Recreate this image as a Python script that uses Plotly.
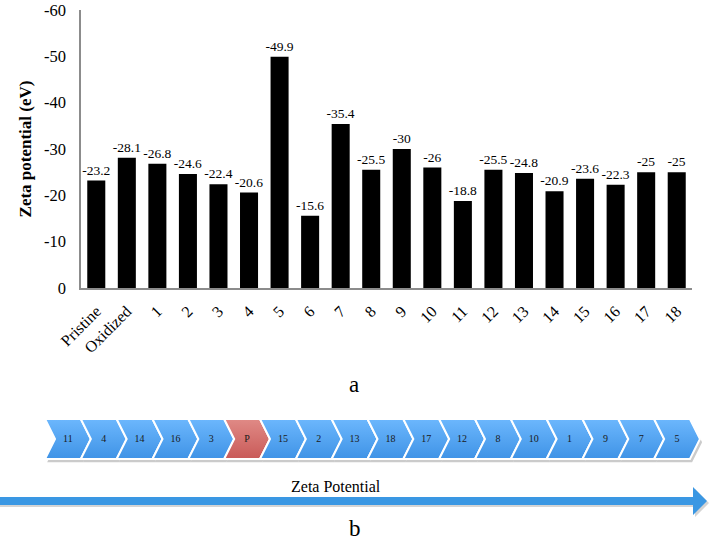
import plotly.graph_objects as go

# ---- data (part a) ----
categories = ["Pristine", "Oxidized", "1", "2", "3", "4", "5", "6", "7", "8", "9",
              "10", "11", "12", "13", "14", "15", "16", "17", "18"]
zeta_values = [-23.2, -28.1, -26.8, -24.6, -22.4, -20.6, -49.9, -15.6, -35.4, -25.5,
               -30, -26, -18.8, -25.5, -24.8, -20.9, -23.6, -22.3, -25, -25]
y_tickvals = [0, -10, -20, -30, -40, -50, -60]
y_ticktext = ["0", "-10", "-20", "-30", "-40", "-50", "-60"]

# ---- data (part b) ----
order_labels = ["11", "4", "14", "16", "3", "P", "15", "2", "13", "18", "17", "12",
                "8", "10", "1", "9", "7", "5"]
highlight_label = "P"

SERIF = "Liberation Serif, Times New Roman, serif"
W, H = 709, 540


def px(x):
    """screen x (pixels) -> paper fraction"""
    return x / W


def py(y):
    """screen y (pixels from top) -> paper fraction"""
    return (H - y) / H


fig = go.Figure()

fig.add_trace(go.Bar(
    x=categories, y=zeta_values,
    marker=dict(color="black", line=dict(width=0)),
    text=[f"{v:g}" for v in zeta_values],
    textposition="outside",
    constraintext="none",
    textfont=dict(family=SERIF, size=13.5, color="black"),
    outsidetextfont=dict(family=SERIF, size=13.5, color="black"),
    cliponaxis=False,
    xaxis="x", yaxis="y",
    showlegend=False,
))

# ---- chevrons ----
d = 0.28  # tip depth in chevron units
for i, lab in enumerate(order_labels):
    xs = [i, i + 1, i + 1 + d, i + 1, i, i + d, i]
    ys = [1, 1, 0.5, 0, 0, 0.5, 1]
    fig.add_trace(go.Scatter(
        x=[x + 0.06 for x in xs], y=[y - 0.08 for y in ys],
        mode="lines", fill="toself", fillcolor="rgba(160,160,160,0.55)",
        line=dict(width=0), hoverinfo="skip", showlegend=False,
        xaxis="x2", yaxis="y2",
    ))
for i, lab in enumerate(order_labels):
    xs = [i, i + 1, i + 1 + d, i + 1, i, i + d, i]
    ys = [1, 1, 0.5, 0, 0, 0.5, 1]
    if lab == highlight_label:
        cs = [[0, "#c95a58"], [1, "#e08a86"]]
    else:
        cs = [[0, "#3f93e6"], [1, "#6cb7fd"]]
    fig.add_trace(go.Scatter(
        x=xs, y=ys, mode="lines", fill="toself",
        fillgradient=dict(type="vertical", colorscale=cs),
        line=dict(color="white", width=2),
        hoverinfo="skip", showlegend=False,
        xaxis="x2", yaxis="y2",
    ))
    fig.add_trace(go.Scatter(
        x=[i + 0.5 + d / 2], y=[0.5], mode="text", text=[lab],
        textfont=dict(family=SERIF, size=10, color="#1a1a1a"),
        hoverinfo="skip", showlegend=False, xaxis="x2", yaxis="y2",
    ))

# chevron axis geometry (pixels)
cw = 35.83
x0px = 45
y_top, y_bot = 419, 459
dom_lo, dom_hi = 0.13, 0.25
p_bot = py(y_bot)
p_top = py(y_top)
upp = 1 / (p_top - p_bot)
r_lo = (dom_lo - p_bot) * upp
r_hi = (dom_hi - p_bot) * upp
x_left = -x0px / cw
x_right = (W - x0px) / cw

fig.update_layout(
    width=W, height=H,
    margin=dict(l=0, r=0, t=0, b=0, autoexpand=False),
    paper_bgcolor="white", plot_bgcolor="rgba(0,0,0,0)",
    bargap=0.41,
    font=dict(family=SERIF, color="black"),
    xaxis=dict(
        domain=[px(81), px(692)], anchor="y", automargin=False,
        showline=True, linecolor="#8c8c8c", linewidth=1.5,
        ticks="outside", ticklen=6, tickcolor="rgba(0,0,0,0)", tickangle=-45,
        tickfont=dict(family=SERIF, size=16, color="black"),
        showgrid=False, zeroline=False,
    ),
    yaxis=dict(
        domain=[py(288), py(10)], anchor="x", automargin=False,
        range=[0, -60],
        tickvals=y_tickvals, ticktext=y_ticktext,
        ticklabeloverflow="allow",
        showline=True, linecolor="#8c8c8c", linewidth=1.5,
        ticks="outside", ticklen=10, tickcolor="rgba(0,0,0,0)",
        tickfont=dict(family=SERIF, size=16.5, color="black"),
        showgrid=False, zeroline=False,
        title=dict(text="<b>Zeta potential (eV)</b>",
                   font=dict(family=SERIF, size=17, color="black"), standoff=8),
    ),
    xaxis2=dict(
        domain=[0, 1], anchor="y2", automargin=False,
        range=[x_left, x_right],
        visible=False,
    ),
    yaxis2=dict(
        domain=[dom_lo, dom_hi], anchor="x2", automargin=False,
        range=[r_lo, r_hi], visible=False,
    ),
)

shaft = (f"M {px(0)},{py(497)} L {px(693)},{py(497)} L {px(693)},{py(487)} "
         f"L {px(707)},{py(501)} L {px(693)},{py(515)} L {px(693)},{py(505)} "
         f"L {px(0)},{py(505)} Z")
shadow = (f"M {px(0)},{py(499)} L {px(695)},{py(499)} L {px(695)},{py(489)} "
          f"L {px(709)},{py(503)} L {px(695)},{py(517)} L {px(695)},{py(507)} "
          f"L {px(0)},{py(507)} Z")
fig.add_shape(type="path", xref="paper", yref="paper", path=shadow,
              fillcolor="rgba(170,170,170,0.5)", line=dict(width=0))
fig.add_shape(type="path", xref="paper", yref="paper", path=shaft,
              fillcolor="#3a97e3", line=dict(width=0))

fig.add_annotation(text="Zeta Potential", xref="paper", yref="paper",
                   x=px(336), y=py(486), xanchor="center", yanchor="middle",
                   showarrow=False,
                   font=dict(family=SERIF, size=16, color="black"))
fig.add_annotation(text="a", xref="paper", yref="paper",
                   x=px(354), y=py(384), xanchor="center", yanchor="middle",
                   showarrow=False,
                   font=dict(family=SERIF, size=23, color="black"))
fig.add_annotation(text="b", xref="paper", yref="paper",
                   x=px(355), y=py(528), xanchor="center", yanchor="middle",
                   showarrow=False,
                   font=dict(family=SERIF, size=23, color="black"))

fig.write_html("out.html",
               config={"displayModeBar": False},
               post_script="document.body.style.margin='0';"
                           "document.body.style.overflow='hidden';")
